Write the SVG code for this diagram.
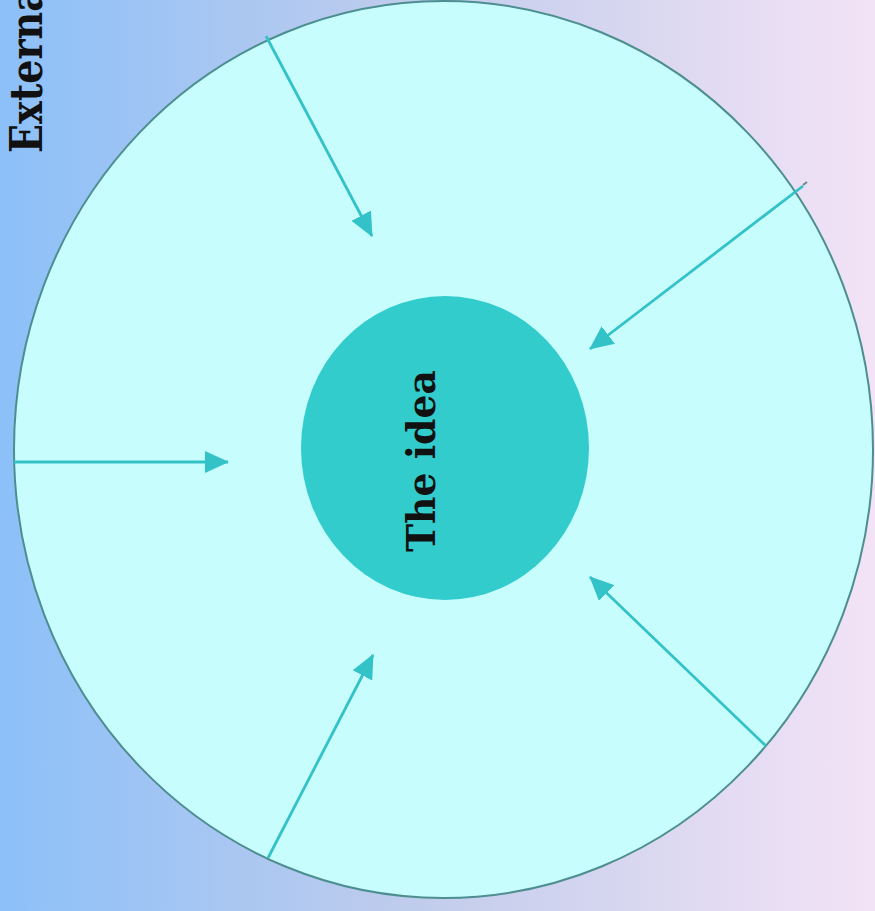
<svg xmlns="http://www.w3.org/2000/svg" width="875" height="911" viewBox="0 0 875 911">
<defs>
<linearGradient id="bg" x1="0" y1="0" x2="1" y2="0">
<stop offset="0" stop-color="#8cc0f8"/>
<stop offset="0.5" stop-color="#c3cdec"/>
<stop offset="1" stop-color="#f3e3f6"/>
</linearGradient>
<marker id="ah" markerUnits="userSpaceOnUse" markerWidth="24" markerHeight="22" viewBox="0 0 24 22" refX="23" refY="11" orient="auto">
<path d="M0,0 L24,11 L0,22 z" fill="#33c2c8"/>
</marker>
<style>
.lbl{font-family:"DejaVu Serif","Liberation Serif",serif;font-weight:bold;fill:#111;}
.arr{stroke:#33c2c8;stroke-width:2.8;fill:none;marker-end:url(#ah);}
</style>
</defs>
<rect width="875" height="911" fill="url(#bg)"/>
<text class="lbl" transform="translate(42,153) rotate(-90)" font-size="44" textLength="166" lengthAdjust="spacingAndGlyphs">Externa</text>
<g id="outer">
<ellipse cx="443.5" cy="449.5" rx="429.5" ry="448.5" fill="#c8fdfd" stroke="#4d8e90" stroke-width="2"/>
</g>
<g id="connectors">
<line x1="803" y1="185" x2="807" y2="182" stroke="#6a8a8a" stroke-width="2"/>
<line class="arr" x1="266" y1="36" x2="372" y2="236"/>
<line class="arr" x1="803" y1="186" x2="590" y2="349"/>
<line class="arr" x1="14" y1="462" x2="228" y2="462"/>
<line class="arr" x1="268" y1="858" x2="373" y2="655"/>
<line class="arr" x1="766" y1="746" x2="590" y2="577"/>
</g>
<g id="idea">
<ellipse cx="445" cy="448" rx="144" ry="152" fill="#33cccc"/>
<text class="lbl" transform="translate(435,461) rotate(-90)" font-size="40" text-anchor="middle" textLength="182" lengthAdjust="spacingAndGlyphs">The idea</text>
</g>
</svg>
